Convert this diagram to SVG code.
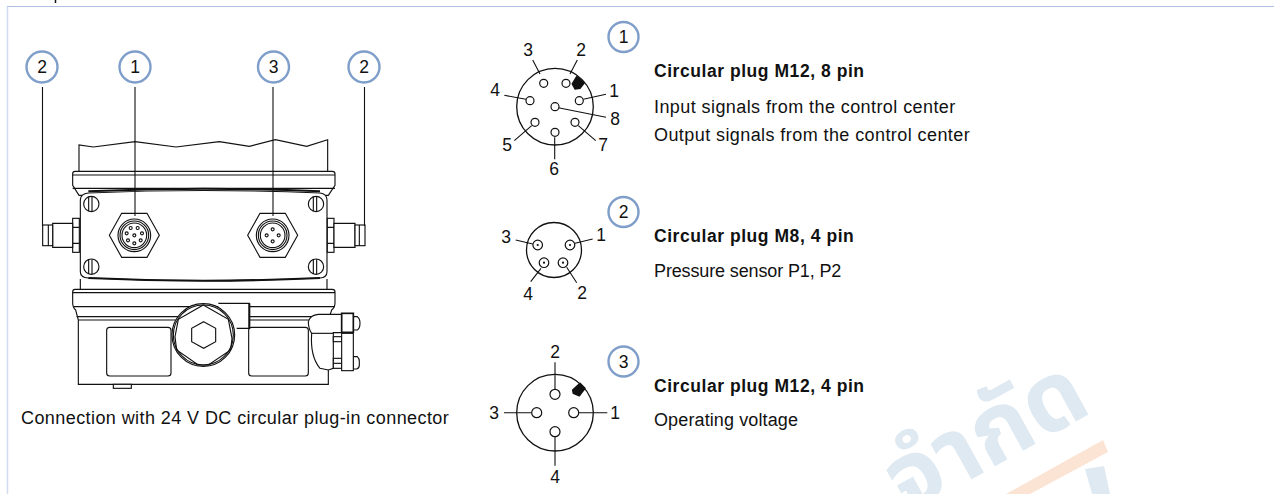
<svg xmlns="http://www.w3.org/2000/svg" width="1274" height="494" viewBox="0 0 1274 494">
<style>
text{font-family:"Liberation Sans",Arial,sans-serif;fill:#111}
.n{font-size:17.5px}
.b{font-size:17.5px;font-weight:700;letter-spacing:.55px}
.t{font-size:18px;letter-spacing:.42px}
.c{text-anchor:middle}
.ring{fill:#fff;stroke:#7f9ec9;stroke-width:2.4}
.k{fill:none;stroke:#111;stroke-width:1.1}
.o{fill:none;stroke:#111;stroke-width:1.3}
.d{fill:none;stroke:#111;stroke-width:3.4}
.dw{fill:#fff;stroke:#111;stroke-width:3.4}
.th{stroke-width:6}
.p{fill:#fff;stroke:#111;stroke-width:1.2}
.wm{font-family:"Noto Sans Thai","Noto Serif Thai","Loma","Noto Sans","DejaVu Sans",sans-serif;fill:#dfe9f1;font-weight:700;font-size:95px}
</style>
<defs>
<g id="screw"><circle r="23" class="dw"/><path class="d" d="M-8,-22V22M2,-22V22"/></g>
<g id="nut"><polygon points="-75,0 -38,-66 38,-66 75,0 38,66 -38,66" class="dw"/><circle r="49" class="d"/><circle r="43" class="d"/><circle r="37" class="d"/></g>
<circle id="s" r="4.5" class="d"/>
</defs>

<g id="frame"><path d="M7.500,494V6.500" fill="none" stroke="#cfdbee" stroke-width="1.500"/><path d="M7,6.500H1274" fill="none" stroke="#aebfe0" stroke-width="1.200"/><path d="M55.500,0V3" stroke="#111" stroke-width="1.500"/></g>

<g id="watermark">
<polygon points="1103,440 1108,452 1030,494 1006,494" fill="#fce4d4"/>
<polygon points="1085,469 1104,466 1110,494 1092,494" fill="#dfe9f1"/>
<text class="wm" transform="translate(907,515) rotate(-29)">จำกัด</text>
</g>

<g id="device" transform="translate(20 190) scale(.33333)">
<path class="d" d="M177,-5V-135L220,-129L345,-145L468,-129L598,-145L688,-131L766,-151L860,-131L923,-151V-5"/>
<path class="dw" d="M165,-56H937Q945,-56 945,-48V-14L925,16H177L158,-14V-48Q158,-56 165,-56Z"/>
<path class="d" d="M158,-45H945"/>
<path class="d" d="M158,-5H945"/>
<path class="dw" d="M205,9Q550,-6 900,9Q921,12 921,30V245Q921,262 900,264Q550,280 205,264Q181,262 181,245V30Q181,12 205,9Z"/>
<path class="d th" d="M205,4Q550,-12 900,4"/>
<path class="d th" d="M205,264Q550,280 900,264"/>
<path class="d" d="M181,267V297M921,267V297"/>
<use href="#screw" x="214" y="42"/><use href="#screw" x="888" y="42"/><use href="#screw" x="214" y="230"/><use href="#screw" x="888" y="230"/>

<g id="plug-left">
<rect x="158" y="85" width="20" height="102" class="dw"/><path class="d" d="M158,112H178M158,160H178"/>
<path class="dw" d="M98,100H158V172H98Z"/>
<rect x="68" y="105" width="30" height="62" class="dw"/><path class="d" d="M85,105V167"/>
</g>
<g id="plug-right">
<rect x="922" y="85" width="20" height="102" class="dw"/><path class="d" d="M922,112H942M922,160H942"/>
<path class="dw" d="M942,100H1005V172H942Z"/>
<rect x="1005" y="105" width="30" height="62" class="dw"/><path class="d" d="M1018,105V167"/>
</g>

<g transform="translate(343 136)"><use href="#nut"/>
<use href="#s" x="0" y="0"/><use href="#s" x="23" y="-6"/><use href="#s" x="10" y="-22"/><use href="#s" x="-11" y="-22"/><use href="#s" x="-23" y="-6"/><use href="#s" x="-19" y="15"/><use href="#s" x="0" y="24"/><use href="#s" x="19" y="15"/></g>
<g transform="translate(758 136)"><use href="#nut"/>
<use href="#s" x="0" y="-18"/><use href="#s" x="-18" y="0"/><use href="#s" x="18" y="0"/><use href="#s" x="0" y="18"/></g>

<g id="body">
<path class="dw" d="M165,298H937Q945,298 945,306V338Q945,352 935,360L925,390V583H175V390L167,360Q158,352 158,338V306Q158,298 165,298Z"/>
<path class="d" d="M158,308H945M160,350H945M170,380H935M175,390H925"/>
<rect x="280" y="583" width="54" height="12" class="dw"/>
<rect x="260" y="412" width="193" height="146" rx="9" class="dw"/>
<rect x="686" y="412" width="179" height="146" rx="9" class="dw"/>
<path d="M595,340H688V415H650L640,420L595,400Z" fill="#fff"/>
<path class="d" d="M595,340H688V415H650"/>
<path class="d" d="M688,340V415" style="stroke-width:6"/>
<circle cx="550" cy="435" r="94" class="dw"/>
<circle cx="550" cy="435" r="90" class="d"/>
<polygon class="d" points="550,345 625,388 636,445 632,480 565,525 535,525 470,480 465,440 475,388"/>
<polygon class="d" points="551,395 587,415 587,455 551,475 515,455 515,415"/>
</g>

<g id="elbow">
<path class="dw" d="M865,395Q870,375 895,373H965V428H940V535L925,540L900,535Q870,500 875,430Q865,415 865,395Z"/>
<path class="d" d="M875,430H940"/>
<rect x="940" y="440" width="25" height="15" class="dw"/>
<rect x="940" y="505" width="25" height="30" class="dw"/><path class="d" d="M940,520H965"/>
<path class="dw" d="M1000,380H1012Q1020,385 1020,400Q1020,415 1012,420H1000Z"/>
<path class="dw" d="M1000,500H1012Q1018,505 1018,515V525Q1018,535 1010,537H1000Z"/>
<rect x="965" y="370" width="35" height="57" class="dw" style="stroke-width:5"/>
<rect x="965" y="430" width="35" height="112" class="dw"/>
</g>
</g>

<g id="connectors">
<path class="k" d="M42.500,87V226M135,87V216M273,87V216M364.500,87V226"/>
<path class="k" d="M532.700,60L540,74M577.300,60L570,74M504.300,95.300L526,99.300M606,94.300L583.300,99.300M606,117.300L558.300,107.700M514.300,140.700L531.700,125.700M595.700,140.700L578.300,125.700M554.700,137.300V159.300"/>
<path class="k" d="M515.700,240L532.700,244M592.700,239L575,243.300M530.700,281.700L541,268.300M576.700,282.700L566.700,267.300"/>
<path class="k" d="M555,362.300V389.300M555,436.700V465.700M504,412.700H531.700M578.700,412.700H607.300"/>
</g>

<g id="legend">
<g id="callout-2a"><circle class="ring" cx="42" cy="67" r="15.500"/><text class="n c" x="42" y="73">2</text></g>
<g id="callout-1"><circle class="ring" cx="135" cy="67" r="15.500"/><text class="n c" x="135" y="73">1</text></g>
<g id="callout-3"><circle class="ring" cx="273.500" cy="67" r="15.500"/><text class="n c" x="273.500" y="73">3</text></g>
<g id="callout-2b"><circle class="ring" cx="364" cy="67" r="15.500"/><text class="n c" x="364" y="73">2</text></g>
<text class="t" x="21" y="424">Connection with 24 V DC circular plug-in connector</text>
</g>

<g id="plug1">
<circle class="o" cx="555" cy="106.700" r="38.300"/>
<path d="M576.700,76.700L584.300,82.700L580,88.300L575,89L572.300,84Z" fill="#111" stroke="#111" stroke-linejoin="round" stroke-width="1.500"/>
<circle class="p" cx="579.300" cy="100.700" r="4"/><circle class="p" cx="566" cy="83.300" r="4"/><circle class="p" cx="543.700" cy="83.300" r="4"/><circle class="p" cx="530" cy="100.700" r="4"/><circle class="p" cx="535" cy="122.300" r="4"/><circle class="p" cx="555" cy="132.300" r="4"/><circle class="p" cx="575" cy="122.300" r="4"/><circle class="p" cx="555" cy="106.700" r="4"/>
<text class="n c" x="614" y="97">1</text><text class="n c" x="581" y="55.500">2</text><text class="n c" x="528" y="55.500">3</text><text class="n c" x="495" y="96">4</text><text class="n c" x="507" y="151">5</text><text class="n c" x="554" y="175">6</text><text class="n c" x="603" y="151">7</text><text class="n c" x="615" y="125">8</text>
<circle class="ring" cx="623.500" cy="37" r="15"/><text class="n c" x="623.500" y="43">1</text>
<text class="b" x="654" y="77">Circular plug M12, 8 pin</text>
<text class="t" x="654" y="113">Input signals from the control center</text>
<text class="t" x="654" y="141">Output signals from the control center</text>
</g>

<g id="plug2">
<circle class="o" cx="554" cy="250" r="27.500"/>
<circle class="p" cx="537.700" cy="245" r="4.800"/><circle class="p" cx="570" cy="245" r="4.800"/><circle class="p" cx="544" cy="262.700" r="4.800"/><circle class="p" cx="563" cy="262.700" r="4.800"/>
<g fill="#111"><circle cx="537.700" cy="245" r="1.100"/><circle cx="570" cy="245" r="1.100"/><circle cx="544" cy="262.700" r="1.100"/><circle cx="563" cy="262.700" r="1.100"/></g>
<text class="n c" x="506" y="243">3</text><text class="n c" x="601" y="240.500">1</text><text class="n c" x="528" y="299.500">4</text><text class="n c" x="582" y="299">2</text>
<circle class="ring" cx="623.500" cy="212" r="15"/><text class="n c" x="623.500" y="218">2</text>
<text class="b" x="654" y="242">Circular plug M8, 4 pin</text>
<text class="t" x="654" y="277" style="letter-spacing:-.13px">Pressure sensor P1, P2</text>
</g>

<g id="plug3">
<circle class="o" cx="555" cy="412.700" r="38.300"/>
<path d="M580,383.300L585,388.300L579.300,395.700L573.300,393.300L572.700,390Z" fill="#111" stroke="#111" stroke-linejoin="round" stroke-width="1.500"/>
<circle class="p" cx="555" cy="394.300" r="5"/><circle class="p" cx="536.700" cy="412.700" r="5"/><circle class="p" cx="573.700" cy="412.700" r="5"/><circle class="p" cx="555" cy="431.700" r="5"/>
<text class="n c" x="555" y="358">2</text><text class="n c" x="494" y="419">3</text><text class="n c" x="615" y="418.500">1</text><text class="n c" x="555" y="483">4</text>
<circle class="ring" cx="623.500" cy="361.500" r="15"/><text class="n c" x="623.500" y="367.500">3</text>
<text class="b" x="654" y="392">Circular plug M12, 4 pin</text>
<text class="t" x="654" y="426" style="letter-spacing:.12px">Operating voltage</text>
</g>
</svg>
